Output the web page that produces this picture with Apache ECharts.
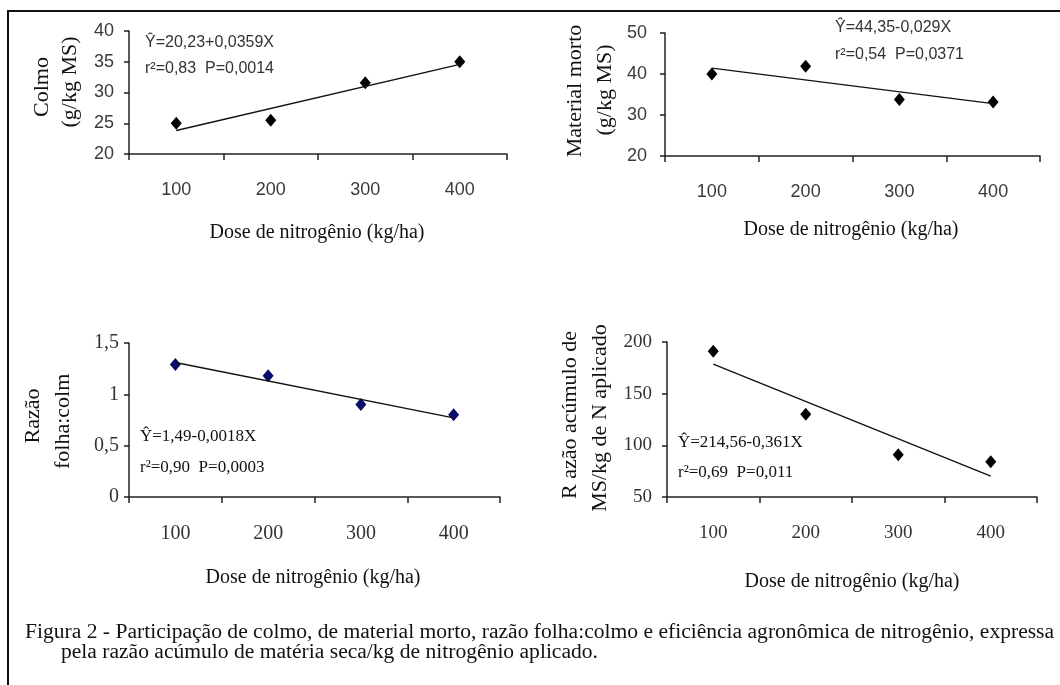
<!DOCTYPE html>
<html><head><meta charset="utf-8">
<script src="https://cdn.jsdelivr.net/npm/echarts@6/dist/echarts.min.js"></script>
<style>html,body{margin:0;padding:0;background:#fff}#c{width:1060px;height:685px}</style>
</head><body><div id="c"></div>
<script>
// ---- data ----
const doses = ['100', '200', '300', '400'];
const colmo = [25.0, 25.5, 31.6, 35.0];
const colmoTrend = [23.82, 34.59];
const morto = [40.0, 41.9, 33.8, 33.2];
const mortoTrend = [41.45, 32.75];
const folhaColmo = [1.29, 1.18, 0.90, 0.80];
const folhaTrend = [1.31, 0.77];
const razaoMS = [191, 130, 91, 84];
const razaoTrend = [178.5, 70.2];

const yTicks1 = [20, 25, 30, 35, 40];
const yTicks2 = [20, 30, 40, 50];
const yTicks3 = [0, 0.5, 1, 1.5];
const yTicks4 = [50, 100, 150, 200];

const xTitle = 'Dose de nitrogênio (kg/ha)';
const caption1 = 'Figura 2 - Participação de colmo, de material morto, razão folha:colmo e eficiência agronômica de nitrogênio, expressa';
const caption2 = 'pela razão acúmulo de matéria seca/kg de nitrogênio aplicado.';

// ---- layout ----
const grids = [
  {left: 129, top: 31, width: 378, height: 123},
  {left: 665, top: 33, width: 375, height: 123},
  {left: 129, top: 343, width: 371, height: 154},
  {left: 667, top: 342, width: 370, height: 155}
];
const sans = 'Liberation Sans, Arial, sans-serif';
const serif = 'Liberation Serif, Times New Roman, serif';
const tickFonts = [
  {font: sans, size: 18, color: '#3a3a3a', ymargin: 15},
  {font: sans, size: 18, color: '#3a3a3a', ymargin: 18},
  {font: serif, size: 20, color: '#333', ymargin: 10},
  {font: serif, size: 19, color: '#333', ymargin: 15}
];
const yTickSets = [yTicks1, yTicks2, yTicks3, yTicks4];
const seriesData = [colmo, morto, folhaColmo, razaoMS];
const trendData = [colmoTrend, mortoTrend, folhaTrend, razaoTrend];
const markerColors = ['#000', '#000', '#0b0b6b', '#000'];

const axisLine = {lineStyle: {color: '#222', width: 1.5}};
const fmt = v => String(v).replace('.', ',');

const xAxes = grids.map((g, i) => ({
  type: 'category', gridIndex: i, data: doses, boundaryGap: true,
  axisLine: axisLine,
  axisTick: {show: true, alignWithLabel: false, length: 6, lineStyle: {color: '#222', width: 1.5}},
  axisLabel: {fontFamily: tickFonts[i].font, fontSize: tickFonts[i].size, color: tickFonts[i].color, margin: 27},
  splitLine: {show: false}
}));
const yAxes = grids.map((g, i) => {
  const t = yTickSets[i];
  return {
    type: 'value', gridIndex: i, min: t[0], max: t[t.length - 1], interval: t[1] - t[0],
    axisLine: {show: true, lineStyle: {color: '#222', width: 1.5}},
    axisTick: {show: true, length: 5, lineStyle: {color: '#222', width: 1.5}},
    axisLabel: {fontFamily: tickFonts[i].font, fontSize: tickFonts[i].size, color: tickFonts[i].color, margin: tickFonts[i].ymargin, formatter: fmt},
    splitLine: {show: false}
  };
});
const series = [];
seriesData.forEach((d, i) => {
  series.push({
    type: 'line', xAxisIndex: i, yAxisIndex: i, symbol: 'none', silent: true,
    data: [[doses[0], trendData[i][0]], [doses[3], trendData[i][1]]],
    lineStyle: {color: '#111', width: 1.3}
  });
  series.push({
    type: 'scatter', xAxisIndex: i, yAxisIndex: i, symbol: 'diamond', symbolSize: [11, 13],
    data: d.map((v, k) => [doses[k], v]),
    itemStyle: {color: markerColors[i], opacity: 1}
  });
});

function txt(x, y, text, o) {
  o = o || {};
  return {
    type: 'text', x: x, y: y, rotation: o.rot || 0, scaleX: o.sx || 1, silent: true,
    style: {
      text: text, fontFamily: o.font || serif, fontSize: o.size || 20, fill: o.color || '#111',
      textAlign: o.align || 'center', textVerticalAlign: 'middle'
    }
  };
}
const R = Math.PI / 2;
const graphic = [
  {type: 'polyline', shape: {points: [[8, 685], [8, 11], [1060, 11]]}, style: {stroke: '#111', lineWidth: 2, fill: null}, silent: true},
  // y titles
  txt(42, 87, 'Colmo', {rot: R, size: 22}),
  txt(70, 82, '(g/kg MS)', {rot: R, size: 22}),
  txt(575, 91, 'Material morto', {rot: R, size: 22}),
  txt(605, 90, '(g/kg MS)', {rot: R, size: 22}),
  txt(33, 416, 'Razão', {rot: R, size: 22}),
  txt(63, 469, 'folha:colm', {rot: R, size: 22, align: 'left'}),
  txt(570, 415, 'R azão acúmulo de', {rot: R, size: 22}),
  txt(600, 418, 'MS/kg de N aplicado', {rot: R, size: 22}),
  // x titles
  txt(317, 233, xTitle),
  txt(851, 230, xTitle),
  txt(313, 578, xTitle),
  txt(852, 582, xTitle),
  // equations
  txt(145, 43, 'Ŷ=20,23+0,0359X', {font: sans, size: 16, color: '#333', align: 'left'}),
  txt(145, 69, 'r²=0,83  P=0,0014', {font: sans, size: 16, color: '#333', align: 'left'}),
  txt(835, 28, 'Ŷ=44,35-0,029X', {font: sans, size: 16, color: '#333', align: 'left'}),
  txt(835, 55, 'r²=0,54  P=0,0371', {font: sans, size: 16, color: '#333', align: 'left'}),
  txt(140, 437, 'Ŷ=1,49-0,0018X', {size: 17, align: 'left'}),
  txt(140, 468, 'r²=0,90  P=0,0003', {size: 17, align: 'left'}),
  txt(678, 443, 'Ŷ=214,56-0,361X', {size: 17, align: 'left'}),
  txt(678, 473, 'r²=0,69  P=0,011', {size: 17, align: 'left'}),
  // caption
  txt(25, 633, caption1, {size: 20, align: 'left', sx: 1.078}),
  txt(61, 653, caption2, {size: 20, align: 'left', sx: 1.078})
];

const chart = echarts.init(document.getElementById('c'), null, {renderer: 'canvas'});
chart.setOption({
  animation: false,
  backgroundColor: '#fff',
  grid: grids.map(g => Object.assign({containLabel: false}, g)),
  xAxis: xAxes, yAxis: yAxes, series: series, graphic: graphic
});
</script></body></html>
